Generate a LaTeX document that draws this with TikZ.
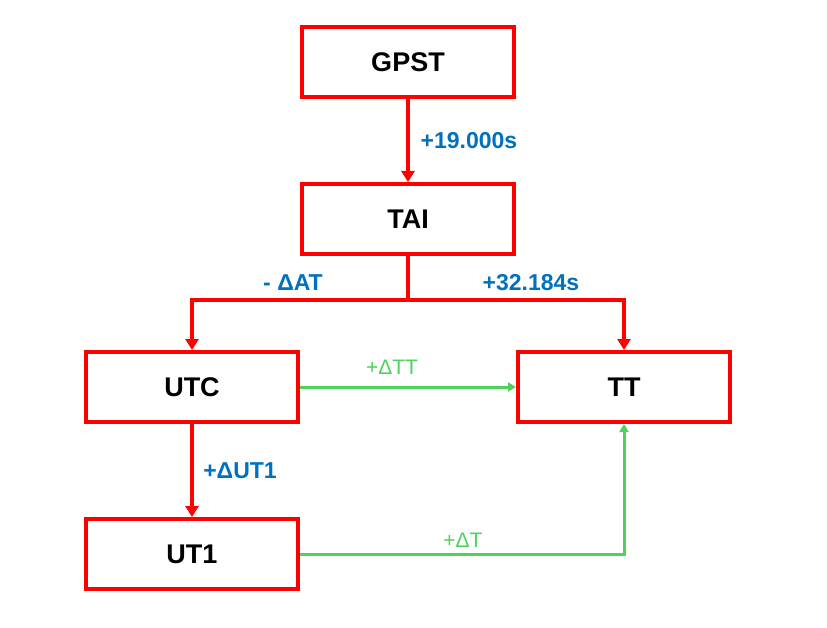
\documentclass[tikz,border=0pt]{standalone}
\usepackage{fontspec}
\setmainfont{Liberation Sans}
\usetikzlibrary{arrows.meta}
\definecolor{boxred}{RGB}{255,0,0}
\definecolor{lblue}{RGB}{0,112,192}
\definecolor{lgreen}{RGB}{80,210,90}
\tikzset{
  tbox/.style={draw=boxred, line width=4pt, minimum width=212pt, minimum height=70pt, inner sep=0pt, font=\fontsize{27}{31}\selectfont\bfseries},
  redline/.style={draw=boxred, line width=4pt},
  redarrow/.style={redline, -{Triangle[width=13pt,length=11pt]}},
  greenarrow/.style={draw=lgreen, line width=3pt, -{Triangle[width=9pt,length=8pt]}},
  bluelbl/.style={text=lblue, font=\fontsize{23}{27}\selectfont\bfseries, inner sep=0pt},
  greenlbl/.style={text=lgreen, font=\fontsize{21}{25}\selectfont, inner sep=0pt}
}
\begin{document}
\begin{tikzpicture}[x=1pt,y=-1pt]
\useasboundingbox (0,0) rectangle (827,628);
\node[tbox] (gpst) at (408,62) {GPST};
\node[tbox] (tai) at (408,219) {TAI};
\node[tbox] (utc) at (192,387) {UTC};
\node[tbox] (tt) at (624,387) {TT};
\node[tbox] (ut1) at (192,554) {UT1};
\coordinate (split) at (408,300);
\draw[redarrow] (gpst.south) -- (tai.north);
\draw[redline] (tai.south) -- (split);
\draw[redarrow] (split) -| (utc.north);
\draw[redarrow] (split) -| (tt.north);
\draw[redarrow] (utc.south) -- (ut1.north);
\draw[greenarrow] (utc.east) -- (tt.west);
\draw[greenarrow] (ut1.east) -| (tt.south);
\node[bluelbl] (l1) at (469,141) {+19.000s};
\node[bluelbl] (l2) at (293,283) {- ΔAT};
\node[bluelbl] (l3) at (531,283) {+32.184s};
\node[bluelbl] (l4) at (240,471) {+ΔUT1};
\node[greenlbl] (l5) at (392,367) {+ΔTT};
\node[greenlbl] (l6) at (463,540) {+ΔT};
\end{tikzpicture}
\end{document}
